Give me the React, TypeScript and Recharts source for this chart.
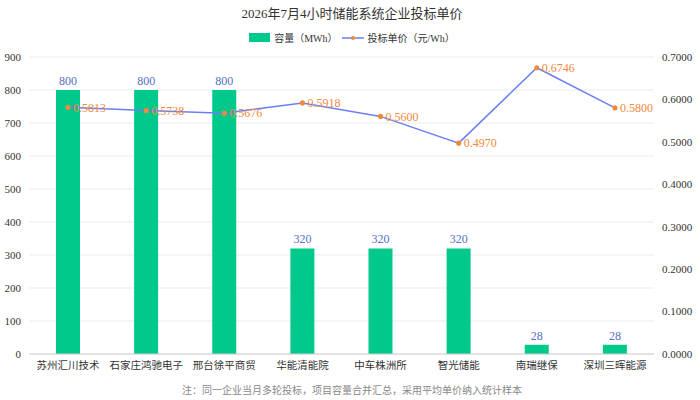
import {
  Bar,
  CartesianGrid,
  ComposedChart,
  LabelList,
  Line,
  XAxis,
  YAxis,
} from "recharts";

const companies = [
  "苏州汇川技术",
  "石家庄鸿驰电子",
  "邢台徐平商贸",
  "华能清能院",
  "中车株洲所",
  "智光储能",
  "南瑞继保",
  "深圳三晖能源",
];
const capacity = [800, 800, 800, 320, 320, 320, 28, 28];
const price = [0.5813, 0.5738, 0.5676, 0.5918, 0.56, 0.497, 0.6746, 0.58];
const leftTicks = [0, 100, 200, 300, 400, 500, 600, 700, 800, 900];
const rightTicks = [0, 0.1, 0.2, 0.3, 0.4, 0.5, 0.6, 0.7];

const FONT = "'Liberation Serif', 'DejaVu Serif', 'Noto Sans CJK SC', serif";
const GREEN = "#00c98b";
const BLUE = "#6b7ff2";
const ORANGE = "#f28a3a";

function LegendBox() {
  return (
    <div
      style={{
        position: "absolute",
        top: 30,
        width: 704,
        display: "flex",
        justifyContent: "center",
        alignItems: "center",
        fontSize: 10,
        color: "#333",
        gap: 4,
      }}
    >
      <span style={{ width: 21, height: 9, background: GREEN, display: "inline-block" }} />
      <span>容量（MWh）</span>
      <svg width={22} height={10}>
        <line x1={0} y1={5} x2={22} y2={5} stroke={BLUE} strokeWidth={1.5} />
        <circle cx={11} cy={5} r={2} fill={ORANGE} />
      </svg>
      <span>投标单价（元/Wh）</span>
    </div>
  );
}

export default function App() {
  const data = companies.map((name, i) => ({
    name,
    capacity: capacity[i],
    price: price[i],
  }));
  return (
    <div
      style={{
        position: "absolute",
        left: 0,
        top: 0,
        width: 700,
        height: 400,
        background: "#fff",
        fontFamily: FONT,
      }}
    >
      <div
        style={{
          position: "absolute",
          top: 3,
          width: 704,
          textAlign: "center",
          fontSize: 13,
          color: "#333",
        }}
      >
        2026年7月4小时储能系统企业投标单价
      </div>
      <LegendBox />
      <ComposedChart
        width={700}
        height={400}
        data={data}
        margin={{ top: 57, right: 0, left: 0, bottom: 0 }}
      >
        <CartesianGrid yAxisId="left" stroke="#ebebeb" vertical={false} />
        <XAxis
          dataKey="name"
          interval={0}
          tickLine={false}
          stroke="#cfcfcf"
          height={46}
          tick={{ fill: "#333", fontSize: 10.5, fontFamily: FONT }}
        />
        <YAxis
          yAxisId="left"
          width={29}
          domain={[0, 900]}
          ticks={leftTicks}
          axisLine={false}
          tickLine={false}
          tick={{ fill: "#333", fontSize: 11, fontFamily: FONT }}
        />
        <YAxis
          yAxisId="right"
          orientation="right"
          width={46}
          domain={[0, 0.7]}
          ticks={rightTicks}
          axisLine={false}
          tickLine={false}
          tickFormatter={(v: number) => v.toFixed(4)}
          tick={{ fill: "#333", fontSize: 11, fontFamily: FONT, textAnchor: "start" }}
        />
        <Bar yAxisId="left" dataKey="capacity" fill={GREEN} barSize={24} isAnimationActive={false}>
          <LabelList dataKey="capacity" position="top" fill="#5470c6" fontSize={12} fontFamily={FONT} />
        </Bar>
        <Line
          yAxisId="right"
          dataKey="price"
          stroke={BLUE}
          strokeWidth={1.5}
          dot={{ r: 1.8, fill: ORANGE, stroke: ORANGE }}
          activeDot={false}
          isAnimationActive={false}
        >
          <LabelList
            dataKey="price"
            position="right"
            offset={5}
            fill={ORANGE}
            fontSize={12}
            fontFamily={FONT}
            formatter={(v: number) => v.toFixed(4)}
          />
        </Line>
      </ComposedChart>
      <div
        style={{
          position: "absolute",
          top: 382,
          width: 704,
          textAlign: "center",
          fontSize: 10,
          color: "#888",
        }}
      >
        注：同一企业当月多轮投标，项目容量合并汇总，采用平均单价纳入统计样本
      </div>
    </div>
  );
}
